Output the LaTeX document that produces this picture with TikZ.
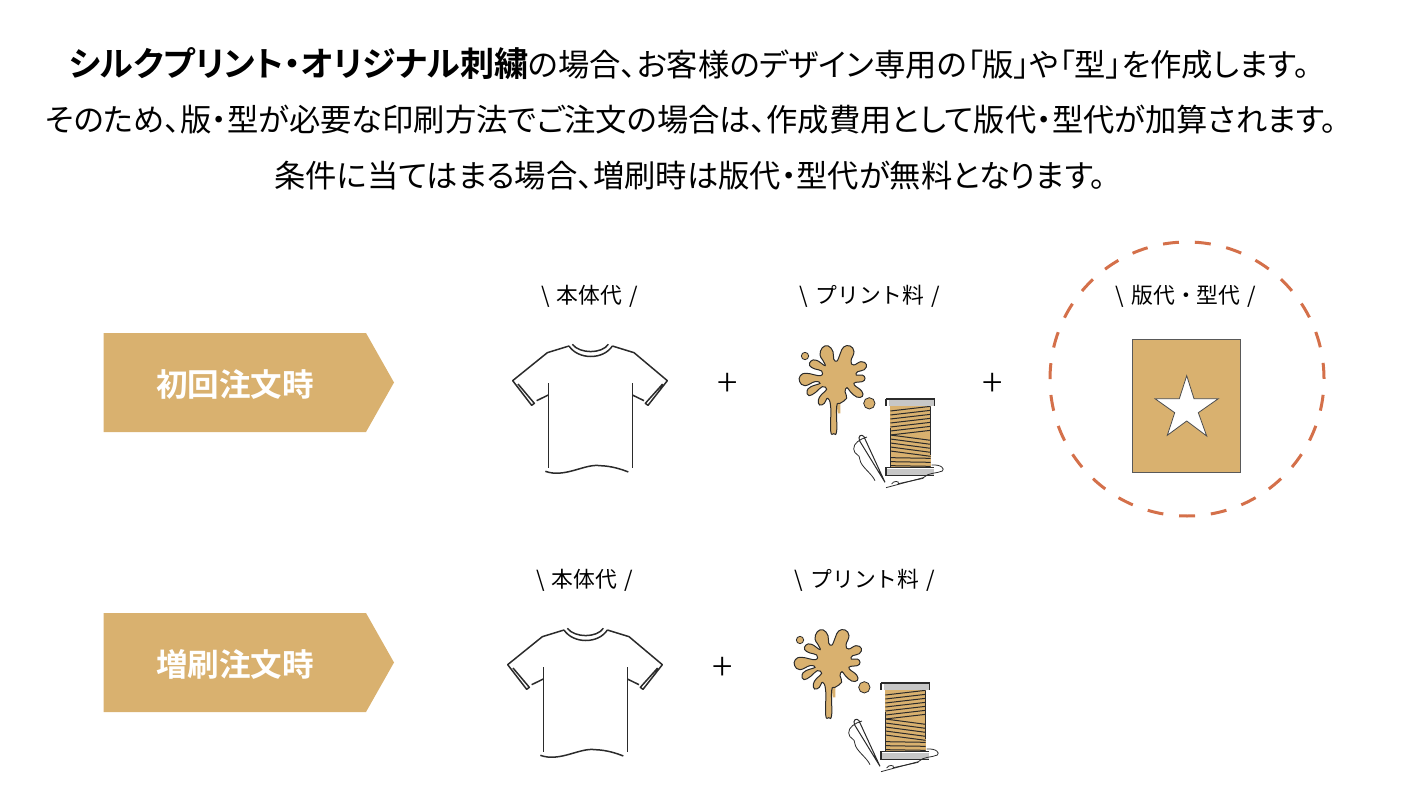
\documentclass[tikz,border=0pt]{standalone}
\usepackage{fontspec}
\setmainfont[RawFeature={+palt},BoldFont={Noto Sans CJK JP Bold}]{Noto Sans CJK JP}
\newfontfamily\plainjp{Noto Sans CJK JP}
\newfontfamily\lightjp{Noto Sans CJK JP Light}
\usepackage{xcolor}
\usetikzlibrary{positioning}
\definecolor{gold}{HTML}{D9B16F}
\definecolor{inkdark}{HTML}{2B2B2B}
\definecolor{dashred}{HTML}{D4704A}
\newcommand{\leadbold}[1]{{\bfseries\fontsize{34}{36}\selectfont #1}}
\newcommand{\costlabel}[1]{\textbackslash\hspace{7pt}#1\hspace{7pt}/}
\tikzset{
    leadtext/.style={
        font=\fontsize{31.3}{34}\selectfont,
        text=black,
        inner sep=0pt
    },
    partlabel/.style={
        font=\plainjp\fontsize{21.8}{24}\selectfont,
        text=black,
        inner sep=0pt
    },
    plussign/.style={
        font=\lightjp\fontsize{38}{40}\selectfont,
        text=black,
        inner sep=0pt
    },
    bannertext/.style={
        font=\bfseries\fontsize{31.6}{34}\selectfont,
        text=white,
        inner sep=0pt
    },
    shirtline/.style={
        draw=inkdark,
        line width=1.5pt
    },
    tshirt/.pic={
        \begin{scope}[scale=1/3,shift={(-300,0)}]
        % sleeves and shoulders
        \draw[shirtline,line join=round] (175,195) -- (140,212);
        \draw[shirtline,line join=round] (237,48) -- (172,68) -- (68,152) -- (125,226) -- (133,220) -- (84,162);
        \draw[shirtline,line join=round] (367,48) -- (432,68) -- (532,152) -- (474,226) -- (466,220) -- (518,162);
        \draw[shirtline] (427,195) -- (462,212);
        % collar
        \draw[shirtline] (237,48) .. controls (265,90) and (340,90) .. (367,48);
        \draw[shirtline] (247,43) .. controls (270,72) and (335,72) .. (355,43);
        % body
        \draw[shirtline] (175,160) -- (175,415);
        \draw[shirtline] (427,160) -- (427,415);
        \draw[shirtline] (166,424) .. controls (225,445) and (285,400) .. (330,407) .. controls (365,408) and (395,418) .. (415,426);
        \end{scope}
    },
    notions/.pic={
        \begin{scope}[scale=1/3]
        % paint blot
        \fill[gold] (155,205) -- (166,205) -- (166,235) -- (158,235) -- cycle;
        \draw[fill=gold,draw=inkdark,line width=1pt] plot[smooth cycle,tension=0.75] coordinates {
            (105,60) (112,38) (130,33) (144,50) (146,72) (156,78) (166,55) (176,36) (195,33) (207,50)
            (198,78) (206,90) (228,80) (244,88) (238,104) (218,110) (214,120) (232,120) (240,130)
            (232,140) (212,142) (208,150) (230,168) (232,184) (215,186) (196,170) (186,158) (180,170)
            (185,190) (165,205) (155,215) (155,288) (146,296) (137,288) (137,215) (128,190) (118,205)
            (104,210) (100,195) (110,178) (125,163) (112,155) (92,172) (72,182) (66,168) (78,155)
            (105,145) (90,140) (60,152) (44,140) (46,122) (65,115) (106,122) (110,108) (90,102)
            (74,92) (78,78) (95,76) (120,92) (113,75)
        };
        \draw[fill=gold,draw=inkdark,line width=0.8pt] (253,205) circle (17);
        \draw[fill=gold,draw=inkdark,line width=0.8pt] (60,63) circle (11);
        % spool
        \fill[gold] (316,212) rectangle (437,397);
        \foreach \yy in {228,240,...,300}
        {
            \draw[inkdark,line width=1pt] (316,\yy) -- (437,\yy-14);
        }
        \foreach \yy in {300,312,...,348}
        {
            \draw[inkdark,line width=1pt] (316,\yy) -- (437,\yy+16);
        }
        \foreach \yy in {368,380,392}
        {
            \draw[inkdark,line width=1pt] (316,\yy) -- (437,\yy+2);
        }
        \draw[inkdark,line width=0.9pt] (316,280) -- (316,395);
        \draw[inkdark,line width=0.9pt] (437,215) -- (437,360);
        \fill[black!22] (312,196) rectangle (448,212);
        \draw[inkdark,line width=1.2pt] (303,192) -- (448,192) -- (448,212);
        \draw[inkdark,line width=1.2pt] (303,192) -- (303,212);
        \fill[black!22] (303,402) rectangle (448,422);
        \draw[inkdark,line width=1.2pt] (303,397) -- (303,422) -- (448,422);
        \draw[inkdark,line width=1.2pt] (303,397) -- (448,397);
        % needle and thread
        \draw[inkdark,line width=1pt] (222,308) .. controls (224,296) and (238,300) .. (240,312) -- (300,442) -- (224,318) -- cycle;
        \draw[inkdark,line width=0.8pt] (246,306) .. controls (225,312) and (205,325) .. (206,342) .. controls (208,362) and (225,355) .. (225,375) .. controls (228,395) and (260,415) .. (270,437);
        \draw[inkdark,line width=0.8pt] (440,390) .. controls (470,388) and (480,402) .. (472,408) .. controls (455,416) and (430,412) .. (415,428) -- (303,458) ;
        \draw[inkdark,line width=0.8pt] (320,447) .. controls (325,436) and (345,438) .. (340,446) -- (415,430);
        \end{scope}
    }
}
\begin{document}
\begin{tikzpicture}[x=1pt,y=-1pt]
    \useasboundingbox (0,0) rectangle (1402,794);
    % lead text
    \node[leadtext] (lineone) at (689,64) {\leadbold{シルクプリント・オリジナル刺繍}の場合、お客様のデザイン専用の「版」や「型」を作成します。};
    \node[leadtext] (linetwo) at (691,120) {そのため、版・型が必要な印刷方法でご注文の場合は、作成費用として版代・型代が加算されます。};
    \node[leadtext] (linethree) at (690,176) {条件に当てはまる場合、増刷時は版代・型代が無料となります。};

    % draw banners
    \foreach \k/\yb/\bname in {first/382.5/初回注文時, repeat/662.5/増刷注文時}
    {
        \fill[gold] (103.5,\yb-49.5) -- (366,\yb-49.5) -- (394,\yb) -- (366,\yb+49.5) -- (103.5,\yb+49.5) -- cycle;
        \node[bannertext] (banner\k) at (235,\yb+2) {\bname};
    }

    % first order row
    \node[partlabel] (bodyfirst) at (589.5,296) {\costlabel{本体代}};
    \node[partlabel] (printfirst) at (870,296) {\costlabel{プリント料}};
    \node[partlabel] (platefirst) at (1186,296) {\costlabel{版代・型代}};
    \pic at (590,330) {tshirt};
    \pic at (785,335) {notions};
    \node[plussign] (plusa) at (727.5,385) {+};
    \node[plussign] (plusb) at (992.5,385) {+};

    % plate with star hole
    \draw[dashred,line width=3pt,dash pattern=on 16pt off 15.88pt,dash phase=16pt] (1187,379) circle (137);
    \draw[fill=gold,draw=black!65,line width=1pt] (1132.7,339) rectangle (1240.7,472.3);
    \draw[fill=white,draw=black!70,line width=0.8pt] (1186.7,375.7) -- (1194,398.7) -- (1218.3,398.7) -- (1198.3,412.7) -- (1206.7,436) -- (1186.7,421) -- (1167.3,435.3) -- (1174.7,412.7) -- (1155,398.7) -- (1179.3,398.7) -- cycle;

    % repeat order row
    \node[partlabel] (bodyrepeat) at (584.5,580) {\costlabel{本体代}};
    \node[partlabel] (printrepeat) at (865,580) {\costlabel{プリント料}};
    \pic at (585,614) {tshirt};
    \pic at (780,619) {notions};
    \node[plussign] (plusc) at (723,669) {+};
\end{tikzpicture}
\end{document}
